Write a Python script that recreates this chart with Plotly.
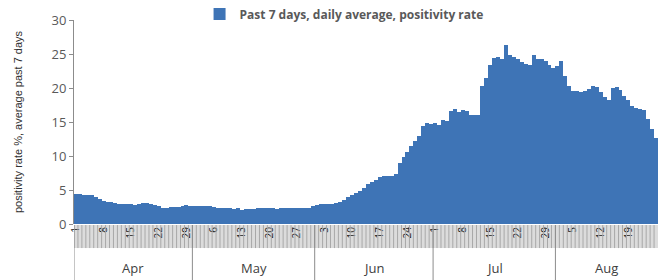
import plotly.graph_objects as go
import datetime as dt

# Daily positivity rate (%), 7-day average, Apr 1 .. Aug 26
apr = [4.4, 4.4, 4.3, 4.3, 4.3, 4.0, 3.7, 3.4, 3.3, 3.2, 3.1, 3.0, 2.9, 2.9, 2.9,
       2.8, 2.9, 3.1, 3.1, 3.0, 2.8, 2.6, 2.4, 2.4, 2.5, 2.5, 2.5, 2.6, 2.8, 2.7]
may = [2.6, 2.6, 2.7, 2.6, 2.6, 2.5, 2.4, 2.4, 2.3, 2.3, 2.2, 2.3, 2.1, 2.2, 2.2,
       2.2, 2.4, 2.4, 2.4, 2.3, 2.3, 2.2, 2.3, 2.3, 2.4, 2.3, 2.4, 2.3, 2.3, 2.4, 2.6]
jun = [2.8, 2.9, 2.9, 2.9, 3.0, 3.1, 3.3, 3.6, 3.9, 4.2, 4.5, 4.8, 5.3, 5.9, 6.2,
       6.5, 6.9, 7.0, 7.0, 7.1, 7.3, 8.9, 9.8, 10.6, 11.4, 12.2, 13.0, 14.4, 14.8, 14.7]
jul = [14.9, 14.6, 15.3, 15.2, 16.6, 16.9, 16.5, 16.8, 16.6, 16.0, 16.1, 16.0, 20.3,
       21.5, 23.4, 24.4, 24.6, 24.3, 26.3, 24.9, 24.5, 24.2, 23.8, 23.5, 23.4, 24.9,
       24.2, 24.2, 24.0, 23.4, 23.0]
aug = [23.3, 23.9, 21.8, 20.3, 19.6, 19.5, 19.4, 19.6, 19.8, 20.3, 20.1, 19.4, 18.7,
       18.2, 20.0, 20.1, 19.7, 18.8, 18.2, 17.4, 17.0, 16.9, 16.8, 15.5, 14.0, 12.6]

values = apr + may + jun + jul + aug
start = dt.date(2020, 4, 1)
dates = [start + dt.timedelta(days=i) for i in range(len(values))]
day_idx = list(range(len(values)))

months = ["Apr", "May", "Jun", "Jul", "Aug"]
month_lengths = [len(apr), len(may), len(jun), len(jul), len(aug)]

tick_idx = [i for i in day_idx if i % 7 == 0]
tick_text = [str(dates[i].day) for i in tick_idx]

series_name = "Past 7 days, daily average, positivity rate"
BLUE = "#3e74b6"
GREY_TXT = "#595959"
FONT = "Open Sans"

fig = go.Figure()
fig.add_trace(go.Bar(x=day_idx, y=values, name=series_name,
                     marker=dict(color=BLUE, line=dict(width=0)),
                     showlegend=True))

shapes = []
# grey band under the axis with daily separator lines
shapes.append(dict(type="rect", xref="x", yref="paper", x0=-0.5, x1=len(values) - 0.5,
                   y0=-0.005, y1=-0.118, fillcolor="#dcdcdc", line=dict(width=0), layer="below"))
path = ""
for i in day_idx:
    xx = i - 0.5
    path += f"M{xx},-0.005 L{xx},-0.118 "
shapes.append(dict(type="path", xref="x", yref="paper", path=path,
                   line=dict(color="#a8a8a8", width=1)))
# month separators and labels
annotations = []
pos = 0
for m, n in zip(months, month_lengths):
    shapes.append(dict(type="line", xref="x", yref="paper", x0=pos - 0.5, x1=pos - 0.5,
                       y0=-0.005, y1=-0.275, line=dict(color="#8c8c8c", width=1)))
    annotations.append(dict(x=pos - 0.5 + n / 2, y=-0.215, xref="x", yref="paper",
                            text=m, showarrow=False, yanchor="middle",
                            font=dict(family=FONT, size=13, color="#404040")))
    pos += n

fig.update_layout(
    width=658, height=280,
    margin=dict(l=74, r=0, t=20, b=56, autoexpand=False),
    paper_bgcolor="white", plot_bgcolor="white",
    bargap=0,
    font=dict(family=FONT, color=GREY_TXT),
    shapes=shapes,
    annotations=annotations,
    legend=dict(orientation="h", x=0.215, y=1.10, xanchor="left", yanchor="top",
                bgcolor="rgba(0,0,0,0)",
                font=dict(family=FONT, size=12, color=GREY_TXT, weight="bold"),
                itemwidth=30),
    xaxis=dict(range=[-0.5, len(values) - 0.5], tickmode="array", tickvals=tick_idx,
               ticktext=tick_text, tickangle=-90, showgrid=False, zeroline=False,
               ticks="", showline=False, automargin=False,
               tickfont=dict(family=FONT, size=10, color="#202020")),
    yaxis=dict(range=[0, 30], dtick=5, showgrid=False, zeroline=False, automargin=False,
               showline=True, linecolor="#8c8c8c", ticks="outside", ticklen=4,
               tickcolor="#8c8c8c",
               tickfont=dict(family=FONT, size=13, color=GREY_TXT),
               title=dict(text="positivity rate %, average past 7 days",
                          font=dict(family="Liberation Sans Narrow, Liberation Sans", size=11,
                                    color="#303030"),
                          standoff=26)),
)

fig.write_html("out.html", config={"displayModeBar": False},
               post_script="document.body.style.margin='0';document.body.style.overflow='hidden';")
